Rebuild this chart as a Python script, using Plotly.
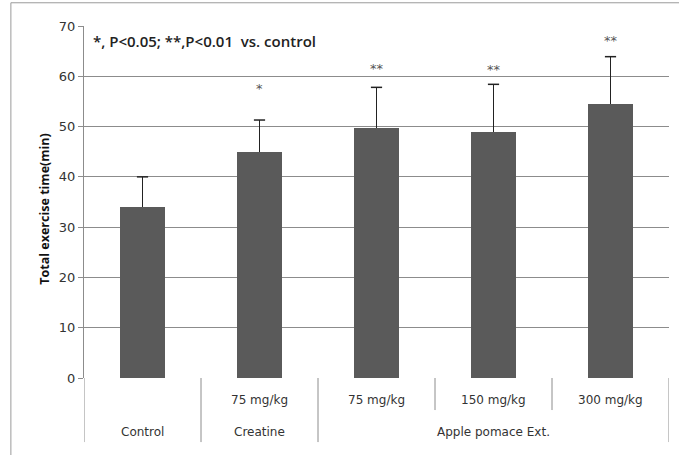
import plotly.graph_objects as go

# Exercise endurance data
dose_labels = ["", "75 mg/kg", "75 mg/kg", "150 mg/kg", "300 mg/kg"]
group_names = ["Control", "Creatine", "Apple pomace Ext."]
group_first = [0, 1, 2]
group_last = [0, 1, 4]
mean_time = [34.0, 45.0, 49.7, 49.0, 54.4]
sd_time = [6.0, 6.3, 8.1, 9.4, 9.5]
significance = ["", "*", "**", "**", "**"]

x_pos = list(range(len(mean_time)))
upper = [m + s for m, s in zip(mean_time, sd_time)]

fig = go.Figure()
fig.add_trace(go.Bar(
    x=x_pos, y=mean_time, width=0.39,
    marker=dict(color="#5a5a5a", line=dict(width=0)),
    error_y=dict(type="data", array=sd_time, arrayminus=[0] * len(sd_time),
                 symmetric=False, color="#222222", thickness=1.5, width=0),
    showlegend=False,
))
# caps on the upper end of each error bar only
fig.add_trace(go.Scatter(
    x=x_pos, y=upper, mode="markers", showlegend=False, hoverinfo="skip",
    marker=dict(symbol="line-ew", size=8, line=dict(color="#222222", width=1.5)),
))

text_font = dict(family="DejaVu Sans, sans-serif", size=12, color="#333333")

# significance markers above each error bar
sig_shift = [0, 22, 9, 5, 7]
for i, (u, lab) in enumerate(zip(upper, significance)):
    if lab:
        fig.add_annotation(x=i, y=u, text=lab, showarrow=False,
                           yanchor="bottom", yshift=sig_shift[i],
                           font=dict(family="DejaVu Sans, sans-serif", size=13, color="#555555"))

# two-level category axis drawn below the plot
for i, lab in enumerate(dose_labels):
    if lab:
        fig.add_annotation(x=i, y=-0.062, yref="paper", text=lab, showarrow=False,
                           font=text_font, yanchor="middle")
for name, a, b in zip(group_names, group_first, group_last):
    fig.add_annotation(x=(a + b) / 2, y=-0.153, yref="paper", text=name, showarrow=False,
                       font=text_font, yanchor="middle")

divider_style = dict(color="#8c8c8c", width=1)
long_edges = sorted(set([a - 0.5 for a in group_first] + [b + 0.5 for b in group_last]))
for xe in long_edges:
    fig.add_shape(type="line", x0=xe, x1=xe, y0=0, y1=-0.182, xref="x", yref="paper",
                  line=divider_style)
for a, b in zip(group_first, group_last):
    for k in range(a, b):
        fig.add_shape(type="line", x0=k + 0.5, x1=k + 0.5, y0=0, y1=-0.091,
                      xref="x", yref="paper", line=divider_style)

# chart frame (top and left edges)
frame = dict(color="#9a9a9a", width=1)
fig.add_shape(type="line", xref="paper", yref="paper", x0=-0.125, x1=1.03,
              y0=1.066, y1=1.066, line=frame)
fig.add_shape(type="line", xref="paper", yref="paper", x0=-0.125, x1=-0.125,
              y0=1.066, y1=-0.23, line=frame)

fig.add_annotation(x=0.012, y=0.957, xref="paper", yref="paper", xanchor="left",
                   yanchor="middle", showarrow=False,
                   text="*, P<0.05; **,P<0.01  vs. control",
                   font=dict(family="Open Sans, DejaVu Sans, sans-serif", size=15,
                             color="#222222", weight=600))

fig.add_annotation(x=-0.087, y=0.48, xref="paper", yref="paper", textangle=-90,
                   showarrow=False, text="Total exercise time(min)",
                   font=dict(family="Open Sans, DejaVu Sans, sans-serif", size=12.5,
                             color="#111111", weight="bold"))

fig.update_xaxes(range=[-0.5, 4.5], showticklabels=False, showgrid=False,
                 zeroline=False, showline=False, ticks="")
fig.update_yaxes(range=[0, 70], dtick=10, showgrid=True, gridcolor="#8c8c8c",
                 gridwidth=1, zeroline=False, showline=True, linecolor="#8c8c8c",
                 linewidth=1, ticks="outside", ticklen=5, tickcolor="#8c8c8c",
                 tickfont=dict(family="DejaVu Sans, sans-serif", size=13,
                               color="#333333"))

fig.update_layout(width=679, height=455, margin=dict(l=84, r=10, t=26, b=77),
                  plot_bgcolor="white", paper_bgcolor="white", bargap=0)

fig.write_html("out.html")
